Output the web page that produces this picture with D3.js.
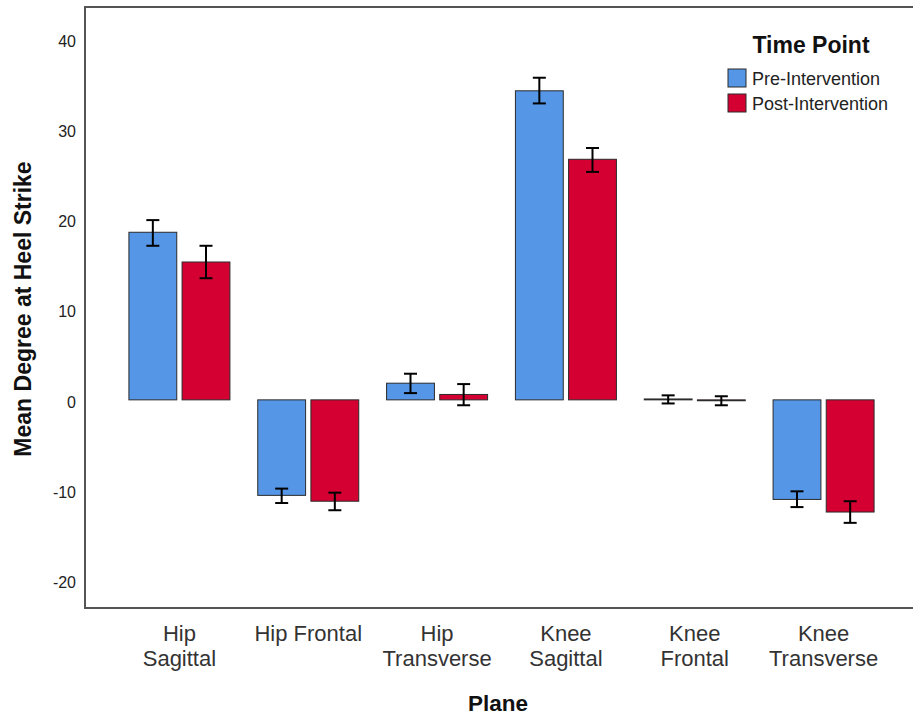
<!DOCTYPE html>
<html lang="en">
<head>
<meta charset="UTF-8">
<title>Mean Degree at Heel Strike</title>
<script src="https://d3js.org/d3.v7.min.js"></script>
<style>
  body { margin: 0; background: #fff; }
  svg { font-family: Arial, "Liberation Sans", sans-serif; }
</style>
</head>
<body>
<div id="chart"></div>
<script>
// data
var planes = ["Hip Sagittal", "Hip Frontal", "Hip Transverse", "Knee Sagittal", "Knee Frontal", "Knee Transverse"];
var planeLines = [["Hip", "Sagittal"], ["Hip Frontal"], ["Hip", "Transverse"], ["Knee", "Sagittal"], ["Knee", "Frontal"], ["Knee", "Transverse"]];
var groups = ["Pre-Intervention", "Post-Intervention"];
var preMean = [18.6, -10.6, 1.85, 34.3, 0.1, -11.05];
var preLow = [17.1, -11.45, 0.75, 32.9, -0.4, -11.9];
var preHigh = [19.95, -9.85, 2.9, 35.75, 0.5, -10.15];
var postMean = [15.3, -11.25, 0.6, 26.7, -0.1, -12.45];
var postLow = [13.5, -12.25, -0.6, 25.3, -0.6, -13.65];
var postHigh = [17.1, -10.3, 1.75, 27.95, 0.4, -11.25];
var yTicks = [-20, -10, 0, 10, 20, 30, 40];

var colors = { "Pre-Intervention": "#5596e6", "Post-Intervention": "#d50032" };

var width = 913, height = 719;
var margin = { top: 7, right: 0, bottom: 111, left: 85 };

var rows = [];
planes.forEach(function (p, i) {
    rows.push({ plane: p, group: groups[0], mean: preMean[i], lo: preLow[i], hi: preHigh[i] });
    rows.push({ plane: p, group: groups[1], mean: postMean[i], lo: postLow[i], hi: postHigh[i] });
});

var svg = d3.select("#chart").append("svg")
    .attr("width", width)
    .attr("height", height);

var y = d3.scaleLinear()
    .domain([-23.1, 43.6])
    .range([height - margin.bottom, margin.top]);

var x0 = d3.scaleBand()
    .domain(planes)
    .range([115, 888])
    .paddingInner(0.216)
    .paddingOuter(0.108);

var x1 = d3.scaleBand()
    .domain(groups)
    .range([0, x0.bandwidth()])
    .paddingInner(0.1);

// bars
svg.append("g")
    .selectAll("rect")
    .data(rows)
    .join("rect")
    .attr("x", d => x0(d.plane) + x1(d.group))
    .attr("y", d => y(Math.max(0, d.mean)))
    .attr("width", x1.bandwidth())
    .attr("height", d => Math.abs(y(d.mean) - y(0)))
    .attr("fill", d => colors[d.group])
    .attr("stroke", "#2b2b2b")
    .attr("stroke-width", 1);

// error bars
var err = svg.append("g")
    .attr("stroke", "#000")
    .attr("stroke-width", 2)
    .selectAll("g")
    .data(rows)
    .join("g")
    .attr("transform", d => `translate(${x0(d.plane) + x1(d.group) + x1.bandwidth() / 2},0)`);

err.append("line")
    .attr("y1", d => y(d.lo))
    .attr("y2", d => y(d.hi));
err.append("line")
    .attr("x1", -6.5).attr("x2", 6.5)
    .attr("y1", d => y(d.hi)).attr("y2", d => y(d.hi));
err.append("line")
    .attr("x1", -6.5).attr("x2", 6.5)
    .attr("y1", d => y(d.lo)).attr("y2", d => y(d.lo));

// frame
svg.append("path")
    .attr("fill", "none")
    .attr("stroke", "#555")
    .attr("stroke-width", 2)
    .attr("d", `M${width},${margin.top}H${margin.left}V${height - margin.bottom}H${width}`);

// y axis, plain hyphens like the original
var yAxis = svg.append("g")
    .attr("transform", `translate(${margin.left},0)`)
    .call(d3.axisLeft(y).tickValues(yTicks).tickSize(0).tickPadding(9).tickFormat(d => String(d)))
    .call(g => g.select(".domain").remove());
yAxis.selectAll("text")
    .attr("font-size", 16)
    .attr("font-family", "Arial, 'Liberation Sans', sans-serif")
    .attr("fill", "#222")
    .attr("dy", "0.45em");

// x axis labels
var xl = svg.append("g")
    .selectAll("text")
    .data(planes)
    .join("text")
    .attr("x", d => x0(d) + x0.bandwidth() / 2)
    .attr("y", 641)
    .attr("text-anchor", "middle")
    .attr("font-size", 22)
    .attr("fill", "#333");
xl.selectAll("tspan")
    .data((d, i) => planeLines[i])
    .join("tspan")
    .attr("x", function () { return d3.select(this.parentNode).attr("x"); })
    .attr("dy", (d, i) => i === 0 ? 0 : 25)
    .text(d => d);

// axis titles
svg.append("text")
    .attr("x", 498)
    .attr("y", 711)
    .attr("text-anchor", "middle")
    .attr("font-size", 22.5)
    .attr("font-weight", "bold")
    .attr("fill", "#111")
    .text("Plane");

svg.append("text")
    .attr("transform", "translate(31,309) rotate(-90)")
    .attr("text-anchor", "middle")
    .attr("font-size", 23)
    .attr("font-weight", "bold")
    .attr("fill", "#111")
    .text("Mean Degree at Heel Strike");

// legend
var legend = svg.append("g")
    .attr("transform", "translate(728,0)");
legend.append("text")
    .attr("x", 83)
    .attr("y", 53)
    .attr("text-anchor", "middle")
    .attr("font-size", 23)
    .attr("font-weight", "bold")
    .attr("fill", "#111")
    .text("Time Point");
var li = legend.selectAll("g.item")
    .data(groups)
    .join("g")
    .attr("class", "item")
    .attr("transform", (d, i) => `translate(0,${69 + i * 25})`);
li.append("rect")
    .attr("width", 18)
    .attr("height", 18)
    .attr("fill", d => colors[d])
    .attr("stroke", "#2b2b2b");
li.append("text")
    .attr("x", 24)
    .attr("y", 16)
    .attr("font-size", 18)
    .attr("fill", "#222")
    .text(d => d);
</script>
</body>
</html>
